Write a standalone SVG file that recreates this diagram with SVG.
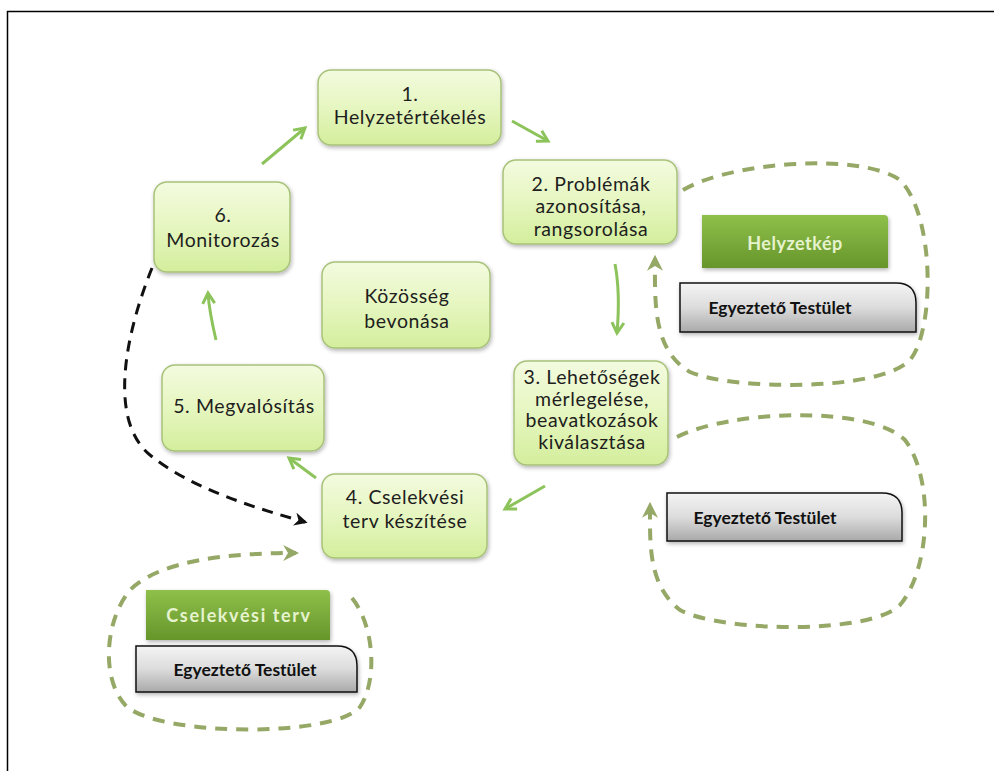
<svg xmlns="http://www.w3.org/2000/svg" width="994" height="771" viewBox="0 0 994 771">
<defs>
<linearGradient id="gn" x1="0" y1="0" x2="0" y2="1">
<stop offset="0" stop-color="#f3fbdf"/>
<stop offset="0.5" stop-color="#e6f6c0"/>
<stop offset="1" stop-color="#d3ee9c"/>
</linearGradient>
<linearGradient id="gh" x1="0" y1="0" x2="0" y2="1">
<stop offset="0" stop-color="#8fc04a"/>
<stop offset="1" stop-color="#66952b"/>
</linearGradient>
<linearGradient id="gg" x1="0" y1="0" x2="0" y2="1">
<stop offset="0" stop-color="#f4f4f4"/>
<stop offset="0.5" stop-color="#dcdcdc"/>
<stop offset="1" stop-color="#a9a9a9"/>
</linearGradient>
<filter id="sh" x="-10%" y="-10%" width="130%" height="140%">
<feGaussianBlur in="SourceAlpha" stdDeviation="2"/>
<feOffset dx="1" dy="2" result="b"/>
<feComponentTransfer><feFuncA type="linear" slope="0.3"/></feComponentTransfer>
<feMerge><feMergeNode/><feMergeNode in="SourceGraphic"/></feMerge>
</filter>
<marker id="ag" viewBox="0 0 10 10" refX="8" refY="5" markerWidth="5" markerHeight="5" orient="auto">
<path d="M1,1 L8,5 L1,9" fill="none" stroke="#8cc35a" stroke-width="2"/>
</marker>
<marker id="ad" viewBox="0 0 10 10" refX="8" refY="5" markerWidth="4" markerHeight="4" orient="auto">
<path d="M0,0 L10,5 L0,10 L3,5 Z" fill="#95a866"/>
</marker>
<marker id="ab" viewBox="0 0 10 10" refX="8" refY="5" markerWidth="4.5" markerHeight="4.5" orient="auto">
<path d="M0,0 L10,5 L0,10 L3,5 Z" fill="#111"/>
</marker>
</defs>
<style>
.n{fill:url(#gn);stroke:#a8c27a;stroke-width:1.5;filter:url(#sh)}
.t{font-family:Lato,"Open Sans","Liberation Sans",sans-serif;font-size:19.5px;letter-spacing:0.6px;fill:#1e1e1e;text-anchor:middle}
.h{fill:url(#gh);filter:url(#sh)}
.ht{font-family:Lato,"Open Sans","Liberation Sans",sans-serif;font-size:18px;font-weight:bold;fill:#e6f3cf;text-anchor:middle}
.g{fill:url(#gg);stroke:#111;stroke-width:1.5;filter:url(#sh)}
.gt{font-family:Lato,"Open Sans","Liberation Sans",sans-serif;font-size:17.5px;font-weight:bold;fill:#111;text-anchor:middle}
.ca{fill:none;stroke:#8cc35a;stroke-width:3;marker-end:url(#ag)}
.cd{fill:none;stroke:#95a866;stroke-width:4;stroke-dasharray:12 9;marker-end:url(#ad)}
.cb{fill:none;stroke:#111;stroke-width:3;stroke-dasharray:11 8;marker-end:url(#ab)}
</style>
<rect x="0" y="0" width="994" height="771" fill="#fff"/>
<path d="M7.5,771 L7.5,11.5 L994,11.5" fill="none" stroke="#000" stroke-width="1.5"/>

<g id="connectors">
<path class="ca" d="M262,164 L305,128"/>
<path class="ca" d="M512,121 L548,141"/>
<path class="ca" d="M615,264 C619,285 619,310 617,333"/>
<path class="ca" d="M545,486 L505,509"/>
<path class="ca" d="M316,478 L289,458"/>
<path class="ca" d="M216,340 C212,323 209,308 208,293"/>
<path class="cd" d="M683,190 C730,162 860,152 900,180 C935,215 935,330 910,360 C880,392 730,390 690,372 C652,350 655,300 655,258"/>
<path class="cd" d="M677,437 C730,410 870,405 905,440 C935,480 930,570 900,605 C870,635 720,632 680,610 C648,585 650,545 650,505"/>
<path class="cd" d="M352,598 C374,625 378,680 360,707 C335,737 165,737 127,707 C100,680 105,620 130,590 C160,560 230,553 296,553"/>
<path class="cb" d="M152,268 C125,335 108,420 150,455 C190,488 255,508 305,522"/>
</g>

<g id="n1"><rect class="n" x="318" y="70" width="183" height="75" rx="13"/>
<text class="t" x="410" y="101">1.</text><text class="t" x="410" y="124">Helyzetértékelés</text></g>
<g id="n2"><rect class="n" x="503" y="160" width="174" height="84" rx="13"/>
<text class="t" x="591" y="191">2. Problémák</text><text class="t" x="591" y="213">azonosítása,</text><text class="t" x="591" y="236">rangsorolása</text></g>
<g id="n3"><rect class="n" x="514" y="361" width="154" height="104" rx="13"/>
<text class="t" x="592" y="384">3. Lehetőségek</text><text class="t" x="592" y="406">mérlegelése,</text><text class="t" x="592" y="427">beavatkozások</text><text class="t" x="592" y="449">kiválasztása</text></g>
<g id="n4"><rect class="n" x="322" y="474" width="165" height="84" rx="13"/>
<text class="t" x="405" y="504">4. Cselekvési</text><text class="t" x="405" y="528">terv készítése</text></g>
<g id="n5"><rect class="n" x="162" y="365" width="162" height="86" rx="13"/>
<text class="t" x="244" y="413">5. Megvalósítás</text></g>
<g id="n6"><rect class="n" x="154" y="182" width="136" height="90" rx="13"/>
<text class="t" x="223" y="222">6.</text><text class="t" x="223" y="247">Monitorozás</text></g>
<g id="n7"><rect class="n" x="322" y="262" width="168" height="86" rx="13"/>
<text class="t" x="407" y="303">Közösség</text><text class="t" x="407" y="328">bevonása</text></g>

<g id="h1"><path class="h" d="M702,215 L884,215 Q888,215 888,219 L888,268 L702,268 Z"/>
<text class="ht" x="795" y="250" style="letter-spacing:0.5px">Helyzetkép</text></g>
<g id="e1"><path class="g" d="M680,283 L896,283 Q916,283 916,303 L916,332 L680,332 Z"/>
<text class="gt" x="780" y="314">Egyeztető Testület</text></g>
<g id="e2"><path class="g" d="M667,493 L882,493 Q902,493 902,513 L902,541 L667,541 Z"/>
<text class="gt" x="765" y="524">Egyeztető Testület</text></g>
<g id="h2"><path class="h" d="M146,590 L326,590 Q330,590 330,594 L330,640 L146,640 Z"/>
<text class="ht" x="239" y="622" style="letter-spacing:1.6px">Cselekvési terv</text></g>
<g id="e3"><path class="g" d="M136,646 L337,646 Q357,646 357,666 L357,692 L136,692 Z"/>
<text class="gt" x="245" y="676">Egyeztető Testület</text></g>
</svg>
